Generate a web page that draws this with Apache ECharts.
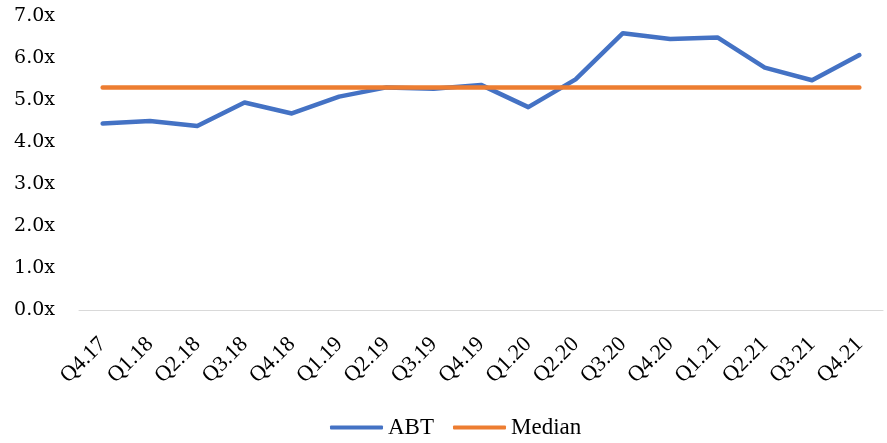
<!DOCTYPE html>
<html>
<head>
<meta charset="utf-8">
<script src="https://cdn.jsdelivr.net/npm/echarts@6/dist/echarts.min.js"></script>
<style>
  html, body { margin: 0; padding: 0; background: #fff; }
  #chart { width: 887px; height: 443px; }
</style>
</head>
<body>
<div id="chart"></div>
<script>
// 季度
const quarters = ['Q4.17', 'Q1.18', 'Q2.18', 'Q3.18', 'Q4.18', 'Q1.19', 'Q2.19', 'Q3.19', 'Q4.19',
  'Q1.20', 'Q2.20', 'Q3.20', 'Q4.20', 'Q1.21', 'Q2.21', 'Q3.21', 'Q4.21']
// ABT 倍数
const abtValues = [4.44, 4.50, 4.38, 4.94, 4.68, 5.08, 5.30, 5.27, 5.36,
  4.83, 5.49, 6.59, 6.45, 6.49, 5.77, 5.47, 6.07]
// 中位数
const medianValue = 5.30
const medianValues = quarters.map(() => medianValue)

const font = 'Liberation Serif'
const chart = echarts.init(document.getElementById('chart'))
const option = {
  animation: false,
  grid: { left: 79, right: 4, top: 16, bottom: 133 },
  legend: {
    top: 416,
    left: 330,
    padding: 0,
    itemWidth: 53,
    itemHeight: 4,
    itemGap: 19,
    icon: 'roundRect',
    textStyle: { fontFamily: font, fontSize: 23, color: '#000' },
    data: ['ABT', 'Median']
  },
  xAxis: {
    type: 'category',
    data: quarters,
    boundaryGap: true,
    axisLine: { lineStyle: { color: '#d9d9d9', width: 1 } },
    axisTick: { show: false },
    axisLabel: {
      rotate: 45,
      margin: 31,
      interval: 0,
      fontFamily: font,
      fontSize: 22,
      color: '#000'
    }
  },
  yAxis: {
    type: 'value',
    min: 0,
    max: 7,
    interval: 1,
    axisLine: { show: false },
    axisTick: { show: false },
    splitLine: { show: false },
    axisLabel: {
      margin: 24,
      fontFamily: 'DejaVu Serif',
      fontSize: 19,
      color: '#000',
      formatter: (v) => v.toFixed(1) + 'x'
    }
  },
  series: [
    {
      name: 'ABT',
      type: 'line',
      data: abtValues,
      symbol: 'none',
      color: '#4472C4',
      lineStyle: { width: 4.5, cap: 'round', join: 'round' }
    },
    {
      name: 'Median',
      type: 'line',
      data: medianValues,
      symbol: 'none',
      color: '#ED7D31',
      lineStyle: { width: 4.5, cap: 'round' }
    }
  ]
}
chart.setOption(option)
</script>
</body>
</html>
